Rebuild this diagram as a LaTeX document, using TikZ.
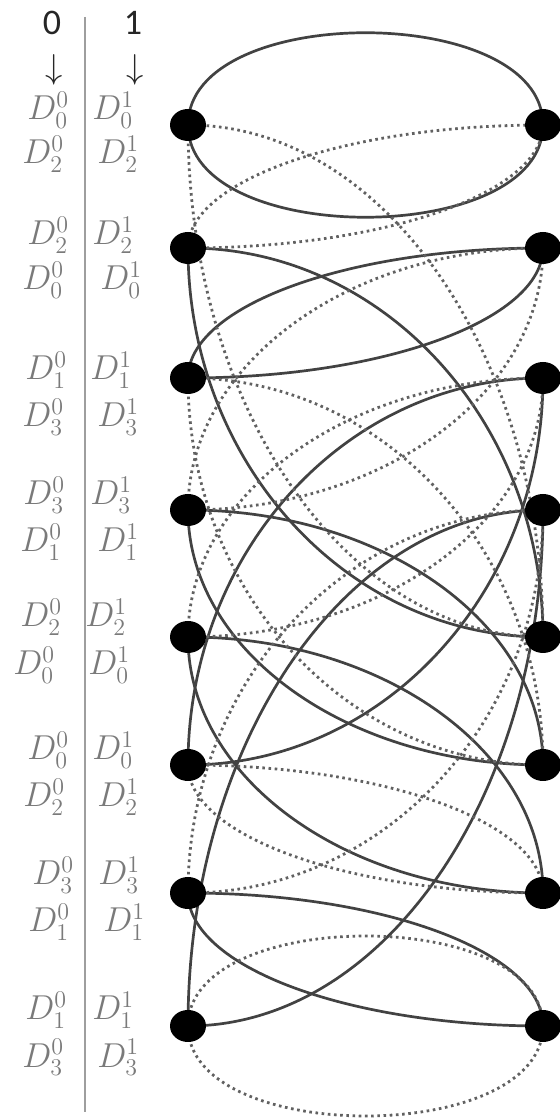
\documentclass[tikz,border=0pt]{standalone}
\usepackage{fontspec}
\newfontfamily\hdrfont{Carlito}
\usetikzlibrary{backgrounds,shapes.geometric}
\begin{document}
\begin{tikzpicture}[x=0.5pt,y=0.5pt,
  dot/.style={fill=black,draw=none,ellipse,minimum width=18pt,minimum height=16pt,inner sep=0pt},
  sl/.style={draw=black!74,line width=1.35pt},
  dl/.style={draw=black!62,line width=1.4pt,dash pattern=on 1.3pt off 1.8pt},
  lbl/.style={text=black!52,inner sep=0pt,anchor=base west,font=\fontsize{17}{17}\selectfont},
  hdr/.style={text=black!85,inner sep=0pt,font=\hdrfont\fontsize{18}{18}\selectfont},
  arr/.style={text=black!85,inner sep=0pt,font=\fontsize{17}{17}\selectfont}]
\useasboundingbox (0,0) rectangle (560,1120);
% header
\node[hdr] (h0) at (52,1097) {0};
\node[hdr] (h1) at (133,1097) {1};
\node[arr] (a0) at (54,1050) {$\downarrow$};
\node[arr] (a1) at (135,1050) {$\downarrow$};
\coordinate (vtop) at (85,1103);
\coordinate (vbot) at (85,8);
\draw[black!38,line width=1pt] (vtop) -- (vbot);
% labels
\foreach \x/\y/\t [count=\n] in {
 27/120/{D^0_0},92/120/{D^1_0},22/164/{D^0_2},97/164/{D^1_2},
 27/245/{D^0_2},92/245/{D^1_2},22/290/{D^0_0},100/290/{D^1_0},
 25/380/{D^0_1},90/380/{D^1_1},22/427/{D^0_3},97/427/{D^1_3},
 23/505/{D^0_3},90/505/{D^1_3},20/552/{D^0_1},97/552/{D^1_1},
 20/627/{D^0_2},85/627/{D^1_2},13/675/{D^0_0},88/675/{D^1_0},
 27/760/{D^0_0},92/760/{D^1_0},23/807/{D^0_2},97/807/{D^1_2},
 32/885/{D^0_3},98/885/{D^1_3},28/932/{D^0_1},103/932/{D^1_1},
 25/1020/{D^0_1},92/1020/{D^1_1},22/1067/{D^0_3},97/1067/{D^1_3}}
 {\node[lbl] (lab\n) at (\x,1120-\y) {$\t$};}
% vertices
\foreach \i/\Y in {0/995,1/872,2/742,3/610,4/483,5/355,6/227,7/94}{
  \node[dot] (L\i) at (188,\Y) {};
  \node[dot] (R\i) at (543,\Y) {};
}
\begin{pgfonlayer}{background}
% solid lenses
\draw[sl] (L0.center) to[out=90,in=90,distance=61.5pt] (R0.center);
\draw[sl] (L0.center) to[out=-90,in=-90,distance=61.5pt] (R0.center);
\foreach \l/\r/\q in {1/4/107.4,3/5/70.4,4/6/70.7,6/7/36.7}{
  \draw[sl] (L\l.center) to[out=0,in=90,out distance=98pt,in distance=\q pt] (R\r.center);
  \draw[sl] (L\l.center) to[out=-90,in=180,out distance=\q pt,in distance=98pt] (R\r.center);
}
\foreach \l/\r/\q in {2/1/35.9,5/2/106.9,7/3/142.5}{
  \draw[sl] (L\l.center) to[out=0,in=-90,out distance=98pt,in distance=\q pt] (R\r.center);
  \draw[sl] (L\l.center) to[out=90,in=180,out distance=\q pt,in distance=98pt] (R\r.center);
}
% dotted lenses
\draw[dl] (L7.center) to[out=90,in=90,distance=60pt] (R7.center);
\draw[dl] (L7.center) to[out=-90,in=-90,distance=60pt] (R7.center);
\foreach \l/\r/\q in {0/4/141.4,2/5/106.9,5/6/35.3}{
  \draw[dl] (L\l.center) to[out=0,in=90,out distance=98pt,in distance=\q pt] (R\r.center);
  \draw[dl] (L\l.center) to[out=-90,in=180,out distance=\q pt,in distance=98pt] (R\r.center);
}
\foreach \l/\r/\q in {1/0/34.0,3/1/72.4,4/2/71.5,6/3/105.8}{
  \draw[dl] (L\l.center) to[out=0,in=-90,out distance=98pt,in distance=\q pt] (R\r.center);
  \draw[dl] (L\l.center) to[out=90,in=180,out distance=\q pt,in distance=98pt] (R\r.center);
}
\end{pgfonlayer}
\end{tikzpicture}
\end{document}
